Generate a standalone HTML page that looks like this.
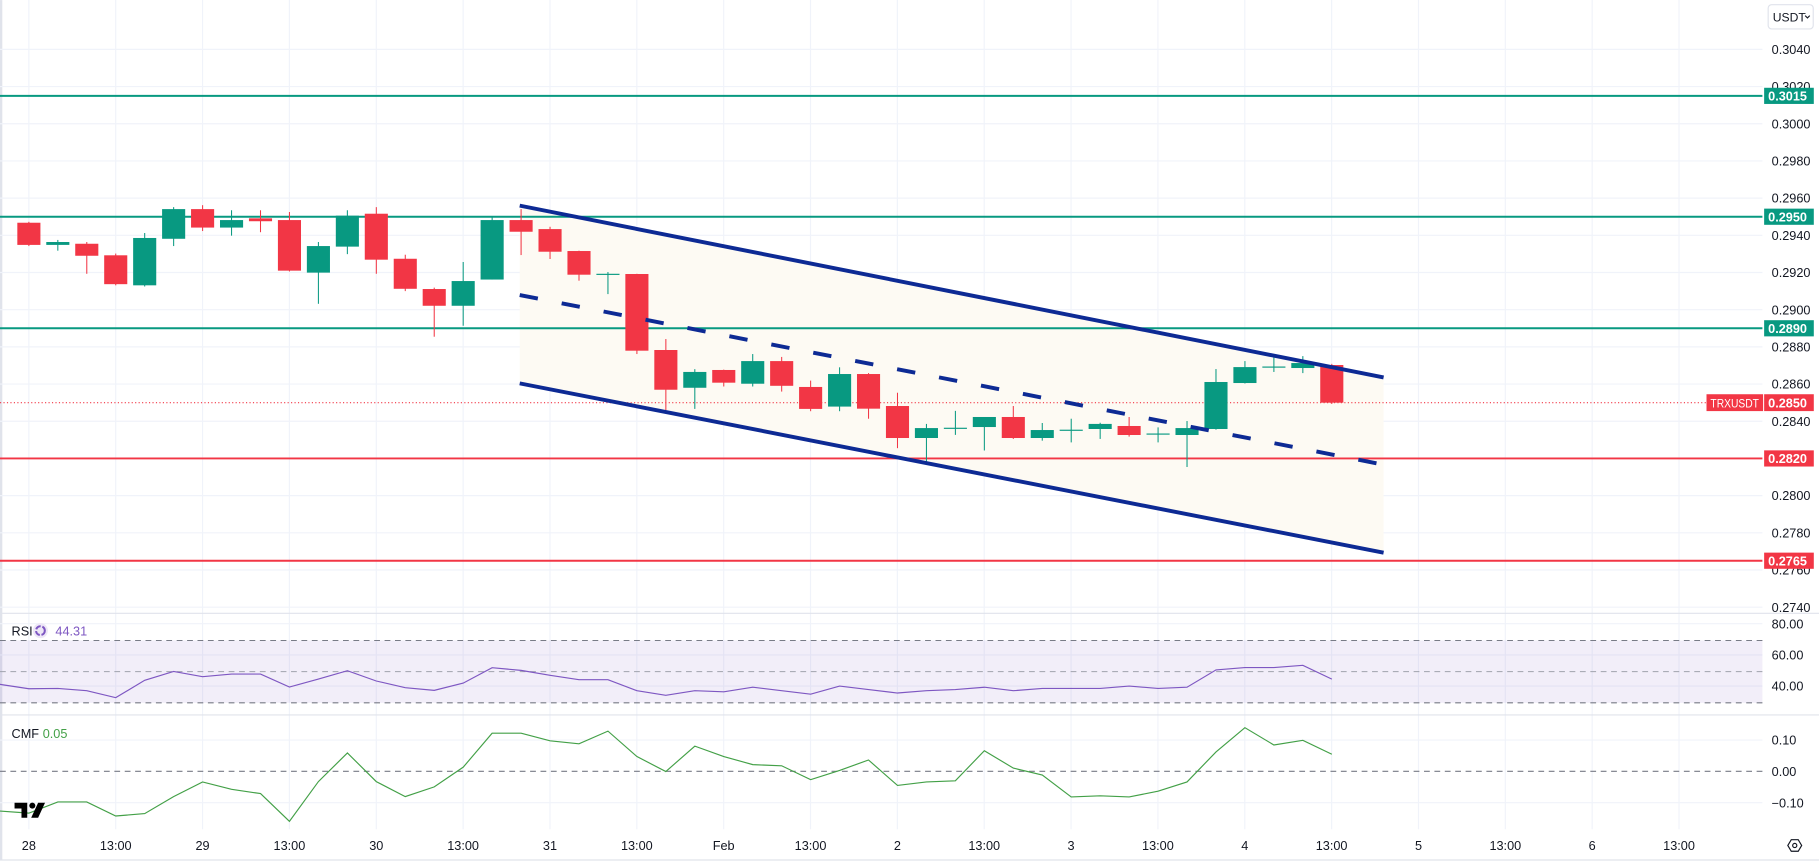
<!DOCTYPE html>
<html><head><meta charset="utf-8">
<style>
html,body{margin:0;padding:0;background:#fff;}
svg{display:block;font-family:"Liberation Sans",sans-serif;}
</style></head>
<body>
<svg id="c" width="1819" height="864" viewBox="0 0 1575 748" xmlns="http://www.w3.org/2000/svg">
<rect x="0" y="0" width="1575" height="748" fill="#fff"/>
<rect x="0" y="0" width="2" height="745" fill="#e0e3eb"/>
<g id="grid"></g>
<polygon points="450,178 1198,326.8 1198,478.5 450,331.9" fill="#fdfaf3"/>
<g id="hl"></g>
<g id="candles"></g>
<line x1="450" y1="178" x2="1198" y2="326.8" stroke="#0d2a94" stroke-width="3.4"/>
<line x1="450" y1="331.9" x2="1198" y2="478.5" stroke="#0d2a94" stroke-width="3.4"/>
<line x1="450" y1="255.4" x2="1198" y2="402.3" stroke="#0d2a94" stroke-width="3.4" stroke-dasharray="16,21"/>
<line x1="0" y1="531" x2="1575" y2="531" stroke="#e0e3eb" stroke-width="1"/>
<rect x="0" y="554.5" width="1526" height="54" fill="#7e57c2" fill-opacity="0.1"/>
<line x1="0" y1="554.5" x2="1526" y2="554.5" stroke="#787b86" stroke-dasharray="5,4" stroke-width="0.9"/>
<line x1="0" y1="581.5" x2="1526" y2="581.5" stroke="#a0a3ad" stroke-dasharray="5,4" stroke-width="0.9"/>
<line x1="0" y1="608.5" x2="1526" y2="608.5" stroke="#787b86" stroke-dasharray="5,4" stroke-width="0.9"/>
<polyline id="rsi" fill="none" stroke="#7e57c2" stroke-width="1"/>
<text x="10" y="550" font-size="11" fill="#131722">RSI</text>
<circle cx="35" cy="546" r="6.5" fill="#ede7f6"/>
<circle cx="35" cy="546" r="3.8" fill="none" stroke="#7e57c2" stroke-width="1.8" stroke-dasharray="5,1.5"/>
<text x="48" y="550" font-size="11" fill="#7e57c2">44.31</text>
<line x1="0" y1="619" x2="1575" y2="619" stroke="#e0e3eb" stroke-width="1"/>
<line x1="0" y1="667.8" x2="1526" y2="667.8" stroke="#787b86" stroke-dasharray="5,4" stroke-width="0.9"/>
<polyline id="cmf" fill="none" stroke="#43a047" stroke-width="1"/>
<text x="10" y="639" font-size="11" fill="#131722">CMF</text>
<text x="37" y="639" font-size="11" fill="#43a047">0.05</text>
<path d="M12.6,695 h11 v13 h-5 v-8 h-6z" fill="#000"/>
<circle cx="28" cy="697.5" r="2.6" fill="#000"/>
<path d="M33,695 h6 l-6,13 h-6z" fill="#000"/>
<line x1="0" y1="744.6" x2="1575" y2="744.6" stroke="#e0e3eb" stroke-width="1"/>
<g id="axis" font-size="11" fill="#131722"></g>
<g id="times" font-size="11" fill="#131722" text-anchor="middle"></g>
<rect x="1531" y="4" width="39" height="21" rx="3" fill="#fff" stroke="#e0e3eb"/>
<text x="1535" y="18.5" font-size="10.5" fill="#131722">USDT</text>
<path d="M1563,13.5 l2,2 l2,-2" fill="none" stroke="#131722" stroke-width="1"/>
<polygon points="1548,732 1551,727 1557,727 1560,732 1557,737 1551,737" fill="none" stroke="#131722" stroke-width="1"/>
<circle cx="1554" cy="732" r="1.8" fill="none" stroke="#131722" stroke-width="1"/>
<g id="boxes" font-size="11" font-weight="bold" fill="#fff"></g>
</svg>
<script>
var NS="http://www.w3.org/2000/svg";
function el(p,t,a,txt){var e=document.createElementNS(NS,t);for(var k in a)e.setAttribute(k,a[k]);if(txt!=null)e.textContent=txt;document.getElementById(p).appendChild(e);return e;}
function py(p){return 187.6+(0.295-p)*16100;}
for(var v=0.2740;v<=0.30401;v+=0.002){var y=py(v);el("grid","line",{x1:0,x2:1526,y1:y,y2:y,stroke:"#f0f3fa","stroke-width":1});
 el("axis","text",{x:1534,y:y+4},v.toFixed(4));}
var tl=["28","13:00","29","13:00","30","13:00","31","13:00","Feb","13:00","2","13:00","3","13:00","4","13:00","5","13:00","6","13:00"];
for(var k=0;k<tl.length;k++){var x=25+75.2*k;el("grid","line",{x1:x,x2:x,y1:0,y2:718,stroke:"#f0f3fa","stroke-width":1});
 el("times","text",{x:x,y:736},tl[k]);}
[[540,"80.00"],[567,"60.00"],[594,"40.00"],[640.7,"0.10"],[667.8,"0.00"],[695,"\u22120.10"]].forEach(function(a){
 el("axis","text",{x:1534,y:a[0]+4},a[1]);
 if(a[0]!=667.8) el("grid","line",{x1:0,x2:1526,y1:a[0],y2:a[0],stroke:"#f0f3fa"});
});
[[0.3015,"#089981"],[0.2950,"#089981"],[0.2890,"#089981"],[0.2820,"#f23645"],[0.2765,"#f23645"]].forEach(function(a){
 var y=py(a[0]);el("hl","line",{x1:0,x2:1526,y1:y,y2:y,stroke:a[1],"stroke-width":1.7});
 el("boxes","rect",{x:1527.5,y:y-7,width:43,height:14,fill:a[1]});
 el("boxes","text",{x:1531,y:y+4},a[0].toFixed(4));
});
var cy=py(0.285);
el("hl","line",{x1:0,x2:1526,y1:cy,y2:cy,stroke:"#f23645","stroke-width":1,"stroke-dasharray":"1,2"});
el("boxes","rect",{x:1477.6,y:cy-7.3,width:49,height:14.6,fill:"#f23645"});
el("boxes","text",{x:1481,y:cy+4,"font-weight":"normal","font-size":"10",textLength:"42",lengthAdjust:"spacingAndGlyphs"},"TRXUSDT");
el("boxes","rect",{x:1527.5,y:cy-7.3,width:43,height:14.6,fill:"#f23645"});
el("boxes","text",{x:1531,y:cy+4},"0.2850");
var C=[[192.8,212,192,213,0],[209.5,212,207.7,217,1],[211,221.4,209.5,237,0],[221,246,219.5,247,0],[206,247,201.7,248,1],
[181,206.7,179.3,213,1],[181,197,177.6,200,0],[190.5,197,182,204,1],[189,191.5,182,201,0],[190.5,234.3,183.5,235,0],
[213,236,209.5,263,1],[186.7,213.5,182,220,1],[185,224.8,179.3,237,0],[224,250,220.5,252,0],[250.2,264.7,249,291.5,0],
[243.3,264.7,226.8,282,1],[190.5,242,187,242,1],[190.5,200.6,181,220.8,0],[198.3,217.9,196.3,224.2,0],[217.3,237.8,217,243,0],
[237,238,235.5,254.6,1],[237.2,303.6,237,306.5,0],[303,337.4,293.5,355,0],[322,335.7,319.6,354,1],[320.3,331.3,320,334.6,0],
[312.6,332.2,306.5,334.6,1],[312.6,334,309,339,0],[335,354,329.5,356,0],[323.8,352,318,356,1],[323.8,353.8,323,362.5,0],
[351.5,379.2,340,388,0],[370.6,379.2,367,401,1],[370.3,371.3,355.7,376.5,1],[361,369.7,361,390,1],[361,379.2,351.5,380,0],
[372.3,379.2,366.2,381.5,1],[372,373,362.5,383,1],[367,371.4,366,380,1],[368.8,376.6,361,378,0],[375.3,376.3,370,383,1],
[370.6,376.6,364.5,404.3,1],[330.7,371.4,319.5,372,1],[317.8,331.6,312.6,332,1],[317.3,318.3,308.3,322,1],[314.3,318.6,308.3,323,1],
[316,348.6,315,349.7,0]];
C.forEach(function(c,i){var x=25+25.07*i,col=c[4]?"#089981":"#f23645";
 el("candles","line",{x1:x,x2:x,y1:c[2],y2:c[3],stroke:col,"stroke-width":0.9});
 el("candles","rect",{x:x-10,y:c[0],width:20,height:Math.max(c[1]-c[0],1),fill:col});
});
var R=[592.5,596.3,596,598,604,589,581.3,585.9,583.6,583.6,594.8,587.9,580.7,589.6,595.4,597.7,591.4,578.1,580.4,584.7,588.5,588.5,
598,602,598,599,595,598,601,594,597,600,598,597,595,598,596,596,596,594,596,595,580,578,578,576,588];
var M=[702.2,704,694.3,694.3,706.5,704.4,689.7,677,683.4,687.1,711.1,676.7,651.9,676.7,689.7,681.3,664.2,634.8,634.8,641.4,644,
633,655,668,646,655,662,663,675,667,658,680,677,676,650,665,671,690,689,690,685,677,651,630,645,641,653];
function pts(a){return a.map(function(y,j){return (25+25.07*(j-1)).toFixed(1)+","+y;}).join(" ");}
document.getElementById("rsi").setAttribute("points",pts(R));
document.getElementById("cmf").setAttribute("points",pts(M));
</script>
</body></html>
